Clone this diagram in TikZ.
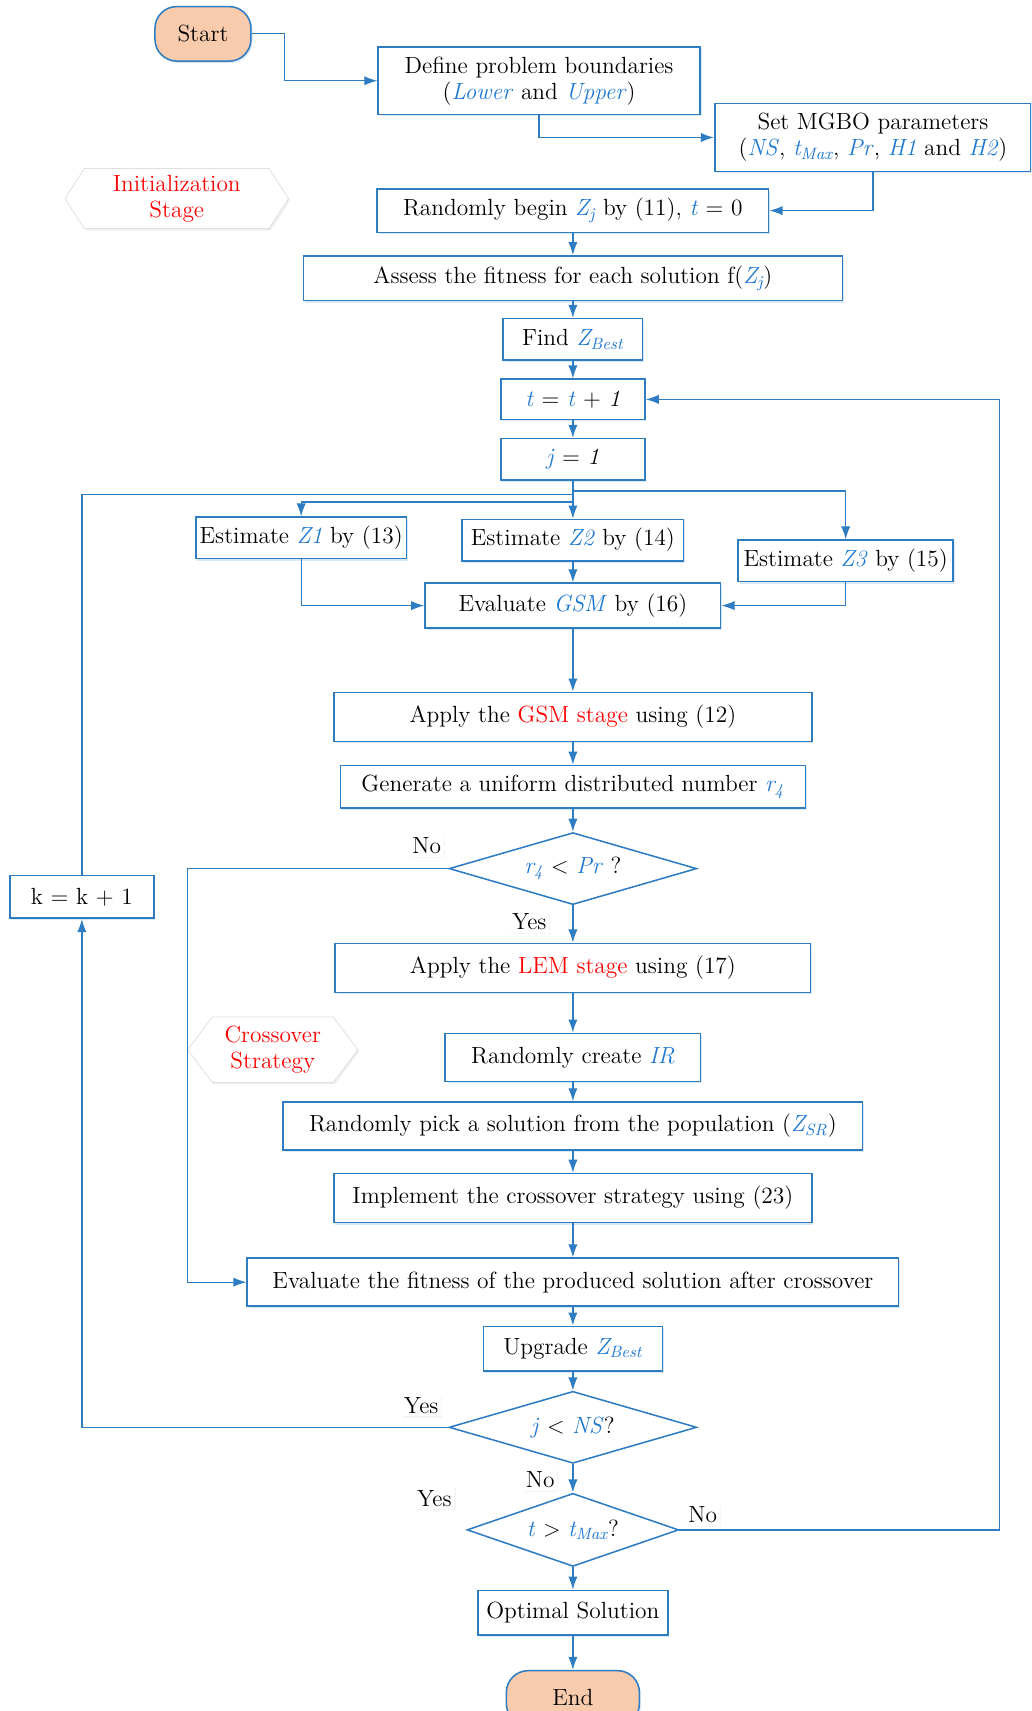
\documentclass[tikz,border=0pt]{standalone}
\usetikzlibrary{arrows.meta, shapes.geometric, shapes.symbols, shadows}

\definecolor{flowblue}{RGB}{46,124,194}
\definecolor{varblue}{RGB}{30,120,210}
\definecolor{peach}{RGB}{248,203,173}

\newcommand{\vb}[1]{\textcolor{varblue}{\textit{#1}}}
\newcommand{\stg}[1]{\textcolor{red}{#1}}

\begin{document}
\begin{tikzpicture}[x=0.02cm, y=-0.02cm]
    % --- CONFIGURATION ---
    \tikzset{
        base_font/.style={font=\fontsize{12.2}{13.6}\selectfont},
        box_style/.style={base_font, draw=flowblue, line width=0.8pt, fill=white,
            align=center, inner sep=2pt,
            drop shadow={shadow xshift=0.8pt, shadow yshift=-1pt, fill=flowblue!30, opacity=0.6}},
        term_style/.style={box_style, fill=peach, rounded corners=0.4cm},
        dec_style/.style={base_font, diamond, aspect=3.4, draw=flowblue, line width=0.8pt,
            fill=white, inner sep=0pt},
        stage_style/.style={base_font, shape=signal, signal to=west and east,
            draw=gray!25, fill=white, text=red, align=center, inner sep=1pt,
            drop shadow={shadow xshift=0.8pt, shadow yshift=-1pt, fill=gray!20, opacity=0.6}},
        lab_style/.style={base_font, fill=white, inner sep=1.5pt,
            drop shadow={shadow xshift=0.6pt, shadow yshift=-0.6pt, fill=gray!15}},
        flow_line/.style={draw=flowblue, line width=0.7pt},
        flow_edge/.style={flow_line, -{Latex[length=2.4mm, width=1.7mm]}}
    }

    \useasboundingbox (0,0) rectangle (945,1568);
    \clip (0,0) rectangle (945,1568);

    % ===================================================
    % 1. INITIALIZATION
    % ===================================================
    \node[term_style, minimum width=1.76cm, minimum height=1cm] (start) at (186,31) {Start};
    \node[box_style, minimum width=5.9cm, minimum height=1.24cm] (bounds) at (494,74)
        {Define problem boundaries\\(\vb{Lower} and \vb{Upper})};
    \node[box_style, minimum width=5.8cm, minimum height=1.24cm] (params) at (800,126)
        {Set MGBO parameters\\(\vb{NS}, \vb{t\textsubscript{Max}}, \vb{Pr}, \vb{H1} and \vb{H2})};
    \node[stage_style, signal pointer angle=114, minimum width=4.1cm, minimum height=1.1cm] (init) at (162,182)
        {Initialization\\Stage};
    \node[box_style, minimum width=7.18cm, minimum height=0.8cm] (begin) at (525,193)
        {Randomly begin \vb{Z\textsubscript{j}} by (11), \vb{t} = 0};
    \node[box_style, minimum width=9.88cm, minimum height=0.82cm] (assess) at (525,255)
        {Assess the fitness for each solution f(\vb{Z\textsubscript{j}})};
    \node[box_style, minimum width=2.56cm, minimum height=0.76cm] (findbest) at (525,311)
        {Find \vb{Z\textsubscript{Best}}};
    \node[box_style, minimum width=2.64cm, minimum height=0.74cm] (tinc) at (525,366)
        {\vb{t} = \vb{t} + \textit{1}};
    \node[box_style, minimum width=2.64cm, minimum height=0.76cm] (jone) at (525,421)
        {\vb{j} = \textit{1}};

    % ===================================================
    % 2. GSM STAGE
    % ===================================================
    \node[box_style, minimum width=3.74cm, minimum height=0.76cm] (zone) at (276,493)
        {Estimate \vb{Z1} by (13)};
    \node[box_style, minimum width=4.06cm, minimum height=0.76cm] (ztwo) at (525,495)
        {Estimate \vb{Z2} by (14)};
    \node[box_style, minimum width=3.94cm, minimum height=0.76cm] (zthree) at (775,514)
        {Estimate \vb{Z3} by (15)};
    \node[box_style, minimum width=5.42cm, minimum height=0.82cm] (evalgsm) at (525,555)
        {Evaluate \vb{GSM} by (16)};
    \node[box_style, minimum width=8.76cm, minimum height=0.9cm] (gsm) at (525,657)
        {Apply the \stg{GSM stage} using (12)};
    \node[box_style, minimum width=8.52cm, minimum height=0.78cm] (gen) at (525,721)
        {Generate a uniform distributed number \vb{r\textsubscript{4}}};
    \node[dec_style, minimum width=4.54cm, minimum height=1.32cm] (decpr) at (525,796)
        {\vb{r\textsubscript{4}} $<$ \vb{Pr} ?};
    \node[box_style, minimum width=2.64cm, minimum height=0.78cm] (kinc) at (75,822)
        {k = k + 1};

    % ===================================================
    % 3. LEM STAGE AND CROSSOVER
    % ===================================================
    \node[box_style, minimum width=8.72cm, minimum height=0.9cm] (lem) at (525,887)
        {Apply the \stg{LEM stage} using (17)};
    \node[stage_style, signal pointer angle=106, minimum width=3.12cm, minimum height=1.2cm] (cross) at (250,962)
        {Crossover\\Strategy};
    \node[box_style, minimum width=4.68cm, minimum height=0.88cm] (ir) at (525,969)
        {Randomly create \vb{IR}};
    \node[box_style, minimum width=10.62cm, minimum height=0.88cm] (pick) at (525,1032)
        {Randomly pick a solution from the population (\vb{Z\textsubscript{SR}})};
    \node[box_style, minimum width=8.76cm, minimum height=0.9cm] (impl) at (525,1098)
        {Implement the crossover strategy using (23)};
    \node[box_style, minimum width=11.94cm, minimum height=0.88cm] (evalfit) at (525,1175)
        {Evaluate the fitness of the produced solution after crossover};
    \node[box_style, minimum width=3.28cm, minimum height=0.82cm] (upgrade) at (525,1236)
        {Upgrade \vb{Z\textsubscript{Best}}};

    % ===================================================
    % 4. STOPPING TESTS
    % ===================================================
    \node[dec_style, minimum width=4.54cm, minimum height=1.32cm] (decns) at (525,1308)
        {\vb{j} $<$ \vb{NS}?};
    \node[dec_style, minimum width=3.88cm, minimum height=1.34cm] (dectmax) at (525,1402)
        {\vb{t} $>$ \vb{t\textsubscript{Max}}?};
    \node[box_style, minimum width=3.48cm, minimum height=0.82cm] (optimal) at (525,1478)
        {Optimal Solution};
    \node[term_style, minimum width=2.44cm, minimum height=1cm] (stop) at (525,1556) {End};

    % Yes / No labels
    \node[lab_style] (no_pr) at (391,775) {No};
    \node[lab_style] (yes_pr) at (485,845) {Yes};
    \node[lab_style] (yes_ns) at (386,1288) {Yes};
    \node[lab_style] (no_ns) at (495,1356) {No};
    \node[lab_style] (yes_tmax) at (398,1373) {Yes};
    \node[lab_style] (no_tmax) at (644,1388) {No};

    % ===================================================
    % CONNECTORS
    % ===================================================
    \coordinate (split_r) at (525,450);
    \coordinate (split_k) at (525,453);
    \coordinate (split_l) at (525,460);
    \coordinate (bypass) at (172,1000);
    \coordinate (back) at (916,900);

    \draw[flow_edge] (start.east) -- ++(30,0) |- (bounds.west);
    \draw[flow_edge] (bounds.south) |- (params.west);
    \draw[flow_edge] (params.south) |- (begin.east);

    \foreach \a/\b in {begin/assess, assess/findbest, findbest/tinc, tinc/jone,
        jone/ztwo, ztwo/evalgsm, evalgsm/gsm, gsm/gen, gen/decpr, decpr/lem,
        lem/ir, ir/pick, pick/impl, impl/evalfit, evalfit/upgrade, upgrade/decns,
        decns/dectmax, dectmax/optimal, optimal/stop} {
        \draw[flow_edge] (\a) -- (\b);
    }

    % branches towards Z1, Z2, Z3
    \draw[flow_edge] (split_r) -| (zthree.north);
    \draw[flow_edge] (split_l) -| (zone.north);
    \draw[flow_line] (kinc.north) |- (split_k);
    \draw[flow_edge] (zone.south) |- (evalgsm.west);
    \draw[flow_edge] (zthree.south) |- (evalgsm.east);

    % loops
    \draw[flow_edge] (decpr.west) -| (bypass) |- (evalfit.west);
    \draw[flow_edge] (decns.west) -| (kinc.south);
    \draw[flow_edge] (dectmax.east) -| (back) |- (tinc.east);

\end{tikzpicture}
\end{document}
